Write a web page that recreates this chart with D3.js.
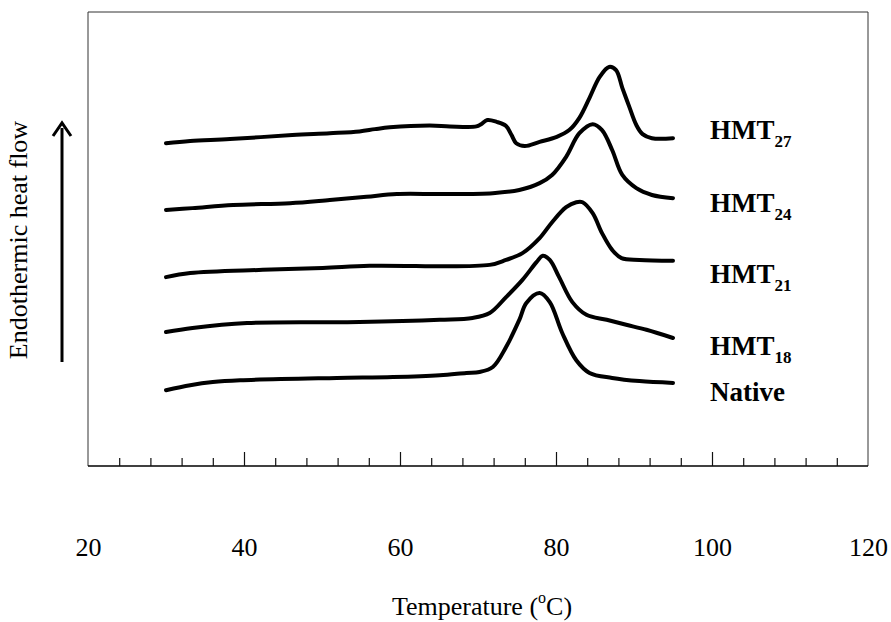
<!DOCTYPE html>
<html>
<head>
<meta charset="utf-8">
<title>DSC thermograms</title>
<script src="https://d3js.org/d3.v7.min.js"></script>
<style>
    body { margin: 0; background: #fff; }
    .curve { fill: none; stroke: #000; stroke-width: 4px; stroke-linejoin: round; stroke-linecap: round; }
    .frame { fill: none; stroke: #333; stroke-width: 1px; }
    .tick line { stroke: #111; stroke-width: 1.2px; }
    .ticklabels text { font-family: "Liberation Serif", "Times New Roman", serif; font-size: 26px; fill: #000; }
    .label { font-family: "Liberation Serif", "Times New Roman", serif; font-weight: bold; font-size: 27px; fill: #000; }
    .title { font-family: "Liberation Serif", "Times New Roman", serif; font-size: 26px; fill: #000; }
</style>
</head>
<body>
<svg id="chart" width="891" height="622"></svg>
<script>
// temperatures (°C) and heat flow (arbitrary units, offset per sample)
var nativeCurve = [
    [30.0,16.7],[33.1,17.8],[36.0,18.5],[39.5,18.9],[51.9,19.4],[59.1,19.6],[65.1,20.0],
    [68.5,20.5],[70.2,20.7],[71.9,21.8],[73.6,26.2],[75.3,32.2],[76.2,35.9],[77.9,38.1],
    [79.2,36.1],[80.8,29.3],[82.6,23.3],[84.3,20.5],[87.2,19.4],[90.7,18.7],[95.0,18.3]
];
var hmt18 = [
    [30.0,29.5],[33.4,30.4],[40.4,31.5],[54.8,31.7],[65.1,32.2],[69.3,32.6],[71.5,33.7],
    [73.6,37.2],[75.7,41.0],[77.5,44.9],[78.3,46.3],[79.2,45.4],[80.4,41.6],[82.1,36.1],
    [83.9,33.3],[86.5,32.2],[89.0,31.1],[91.6,30.0],[95.0,28.2]
];
var hmt21 = [
    [30.0,41.6],[33.1,42.5],[42.4,43.2],[50.1,43.6],[56.1,44.1],[71.5,44.3],[73.6,45.4],
    [75.7,46.9],[77.9,50.2],[79.5,53.7],[81.3,57.0],[82.6,58.1],[83.4,58.1],[84.7,55.7],
    [85.9,51.3],[87.2,47.6],[88.4,45.8],[90.7,45.4],[95.0,45.2]
];
var hmt24 = [
    [30.0,56.4],[33.4,56.8],[38.6,57.5],[45.9,57.9],[51.0,58.6],[55.7,59.3],[59.6,59.9],
    [65.5,59.9],[71.9,60.1],[75.3,60.8],[77.9,62.3],[79.5,64.1],[81.3,68.1],[83.0,73.3],
    [84.7,75.3],[85.9,74.0],[87.2,69.6],[88.5,64.1],[90.3,61.2],[92.3,59.7],[95.0,59.0]
];
var hmt27 = [
    [30.0,71.1],[33.1,71.6],[38.2,72.0],[46.2,72.9],[51.0,73.3],[54.8,73.7],[56.8,74.2],
    [58.7,74.6],[63.8,75.0],[66.4,74.8],[69.8,74.8],[70.4,75.3],[71.2,76.2],[72.4,75.8],
    [73.6,74.9],[74.3,72.9],[74.9,71.1],[76.0,70.5],[77.9,71.4],[80.1,72.5],[81.7,74.0],
    [83.0,76.7],[84.3,81.1],[85.6,85.7],[86.8,87.9],[87.7,87.2],[88.5,83.3],[89.4,79.1],
    [90.3,75.1],[91.1,73.1],[92.3,72.2],[95.0,72.2]
];

var seriesNames = ["HMT", "HMT", "HMT", "HMT", "Native"];
var seriesSubs = ["27", "24", "21", "18", ""];
var seriesData = [hmt27, hmt24, hmt21, hmt18, nativeCurve];
// heat flow level of each label's baseline
var labelLevels = [72.0, 55.9, 40.3, 24.4, 14.3];

var xTickLabels = [20, 40, 60, 80, 100, 120];
var majorTicks = [40, 60, 80, 100];
var minorTicks = d3.range(24, 120, 4).filter(function(d){ return majorTicks.indexOf(d) < 0; });

var plotLeft = 88, plotRight = 868, plotTop = 12, plotBottom = 466;

var svg = d3.select("#chart");

var x = d3.scaleLinear().domain([20, 120]).range([plotLeft, plotRight]);
var y = d3.scaleLinear().domain([0, 100]).range([plotBottom, plotTop]);

// frame
svg.append("path")
    .attr("class", "frame")
    .attr("d", "M" + plotLeft + "," + plotBottom + "V" + plotTop + "H" + plotRight + "V" + plotBottom);

svg.append("line")
    .attr("x1", plotLeft).attr("x2", plotRight)
    .attr("y1", plotBottom).attr("y2", plotBottom)
    .attr("stroke", "#000").attr("stroke-width", 1.5);

// ticks pointing up into the plot
svg.append("g")
    .attr("transform", "translate(0," + plotBottom + ")")
    .call(d3.axisBottom(x).tickValues(minorTicks).tickSize(-8).tickFormat(""))
    .call(function(g){ g.select(".domain").remove(); });

svg.append("g")
    .attr("transform", "translate(0," + plotBottom + ")")
    .call(d3.axisBottom(x).tickValues(majorTicks).tickSize(-14).tickFormat(""))
    .call(function(g){ g.select(".domain").remove(); });

// tick labels far below the frame
svg.append("g")
    .attr("class", "ticklabels")
    .attr("transform", "translate(0,536)")
    .call(d3.axisBottom(x).tickValues(xTickLabels).tickSize(0).tickFormat(d3.format("d")))
    .call(function(g){
        g.select(".domain").remove();
        g.selectAll("text").attr("dy", null).attr("y", 20).attr("font-family", null).attr("font-size", null);
    });

// curves
var line = d3.line()
    .x(function(d){ return x(d[0]); })
    .y(function(d){ return y(d[1]); })
    .curve(d3.curveCatmullRom.alpha(0.5));

svg.selectAll(".curve")
    .data(seriesData)
    .enter()
    .append("path")
    .attr("class", "curve")
    .attr("d", line);

// sample labels
var labels = svg.selectAll(".label")
    .data(seriesNames)
    .enter()
    .append("text")
    .attr("class", "label")
    .attr("x", 710)
    .attr("y", function(d, i){ return y(labelLevels[i]); })
    .text(function(d){ return d; });

labels.append("tspan")
    .attr("font-size", "17px")
    .attr("dy", 8)
    .text(function(d, i){ return seriesSubs[i]; });

// axis title
var title = svg.append("text")
    .attr("class", "title")
    .attr("x", 482)
    .attr("y", 615)
    .attr("text-anchor", "middle");
title.append("tspan").text("Temperature (");
title.append("tspan").attr("font-size", "16px").attr("dy", -12).text("o");
title.append("tspan").attr("dy", 12).text("C)");

// y label with arrow
svg.append("text")
    .attr("class", "title")
    .attr("transform", "translate(27,240) rotate(-90)")
    .attr("text-anchor", "middle")
    .attr("font-size", "25px")
    .text("Endothermic heat flow");

svg.append("line")
    .attr("x1", 62).attr("x2", 62)
    .attr("y1", 362).attr("y2", 128)
    .attr("stroke", "#000").attr("stroke-width", 3);

svg.append("path")
    .attr("d", "M53,136 L62,123 L71,136")
    .attr("fill", "none")
    .attr("stroke", "#000")
    .attr("stroke-width", 3)
    .attr("stroke-linejoin", "miter");
</script>
</body>
</html>
